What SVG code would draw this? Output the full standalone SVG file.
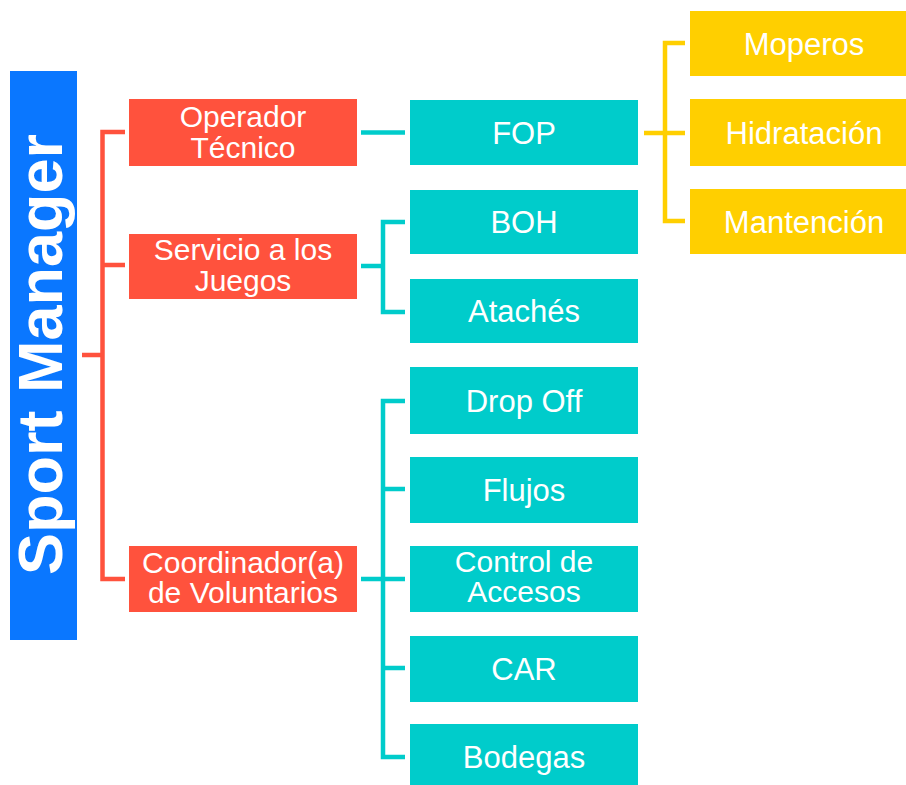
<svg xmlns="http://www.w3.org/2000/svg" width="906" height="785" viewBox="0 0 906 785">
<style>
.t{font-family:"Liberation Sans",Arial,sans-serif;font-size:31px;fill:#fff;text-anchor:middle}
.t2{font-size:30px}
.big{font-family:"Liberation Sans",Arial,sans-serif;font-size:63px;font-weight:bold;fill:#fff;text-anchor:middle}
.red{fill:#FF523D}.teal{fill:#00CCCB}.yel{fill:#FFCF00}
.lr{stroke:#FF523D;stroke-width:4.5;fill:none}
.lt{stroke:#00CCCB;stroke-width:4.5;fill:none}
.ly{stroke:#FFCF00;stroke-width:4.5;fill:none}
</style>
<rect width="906" height="785" fill="#fff"/>
<g id="connectors">
<path class="lr" d="M82 355H102.5M125 132H102.5V579H125M102.5 265H125"/>
<path class="lt" d="M361 132.5H405"/>
<path class="lt" d="M361 266H383M405 222H383V312H405"/>
<path class="lt" d="M361 579H405M405 401H383V757H405M383 489H405M383 668H405"/>
<path class="ly" d="M644 133H685M685 43H665V221H685"/>
</g>
<g id="sport-manager"><rect x="10" y="71" width="67" height="569" fill="#0A77FF"/><text class="big" transform="translate(62 354.5) rotate(-90)">Sport Manager</text></g>
<g id="operador"><rect class="red" x="129" y="99" width="228" height="67"/><text class="t t2" x="243" y="127">Operador</text><text class="t t2" x="243" y="158">Técnico</text></g>
<g id="servicio"><rect class="red" x="129" y="234" width="228" height="65"/><text class="t t2" x="243" y="260">Servicio a los</text><text class="t t2" x="243" y="291">Juegos</text></g>
<g id="coordinador"><rect class="red" x="129" y="546" width="228" height="66"/><text class="t t2" x="243" y="573">Coordinador(a)</text><text class="t t2" x="243" y="603">de Voluntarios</text></g>
<g id="fop"><rect class="teal" x="410" y="100" width="228" height="65"/><text class="t" x="524" y="143.5">FOP</text></g>
<g id="boh"><rect class="teal" x="410" y="190" width="228" height="64"/><text class="t" x="524" y="233">BOH</text></g>
<g id="ataches"><rect class="teal" x="410" y="279" width="228" height="64"/><text class="t" x="524" y="322">Atachés</text></g>
<g id="dropoff"><rect class="teal" x="410" y="367" width="228" height="67"/><text class="t" x="524" y="411.5">Drop Off</text></g>
<g id="flujos"><rect class="teal" x="410" y="457" width="228" height="66"/><text class="t" x="524" y="501">Flujos</text></g>
<g id="control"><rect class="teal" x="410" y="546" width="228" height="66"/><text class="t t2" x="524" y="572">Control de</text><text class="t t2" x="524" y="602">Accesos</text></g>
<g id="car"><rect class="teal" x="410" y="636" width="228" height="66"/><text class="t" x="524" y="680">CAR</text></g>
<g id="bodegas"><rect class="teal" x="410" y="724" width="228" height="66"/><text class="t" x="524" y="768">Bodegas</text></g>
<g id="moperos"><rect class="yel" x="690" y="11" width="228" height="65"/><text class="t" x="804" y="54.5">Moperos</text></g>
<g id="hidratacion"><rect class="yel" x="690" y="99" width="228" height="67"/><text class="t" x="804" y="143.5">Hidratación</text></g>
<g id="mantencion"><rect class="yel" x="690" y="189" width="228" height="65"/><text class="t" x="804" y="232.5">Mantención</text></g>
</svg>
